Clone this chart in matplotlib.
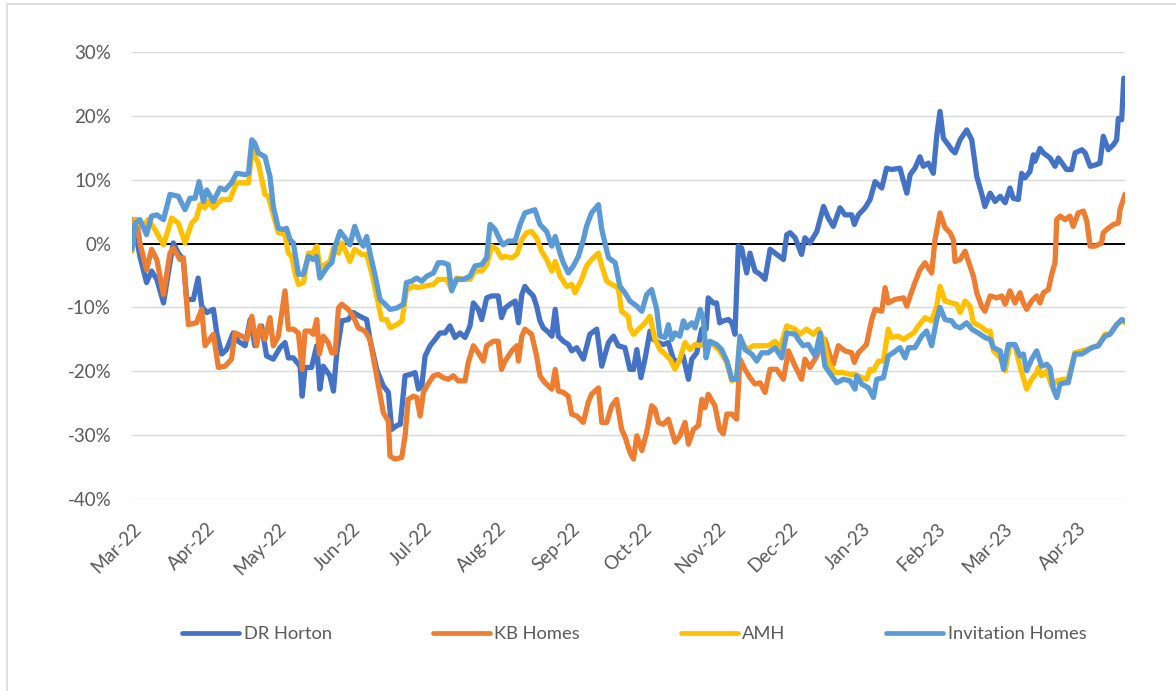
import numpy as np
import pandas as pd
import matplotlib
matplotlib.use("Agg")
import matplotlib.pyplot as plt
import matplotlib.dates as mdates
from matplotlib.ticker import FuncFormatter
from matplotlib.lines import Line2D

# ---------------- data (day offset from 2022-03-01, % change) ----------------
start_date = "2022-03-01"
end_day = 416

drh_days = [0.0, 1.3, 3.3, 6.1, 8.2, 10.4, 13.2, 15.2, 17.3, 19.4, 21.5, 22.9, 25.7, 27.7, 29.2, 31.3,
            34.1, 35.5, 37.6, 39.6, 42.4, 44.5, 47.4, 49.5, 51.5, 54.3, 56.4, 59.2, 62.0, 64.1, 65.5,
            67.6, 70.4, 71.3, 72.5, 75.2, 77.4, 78.7, 80.1, 82.9, 84.4, 85.8, 87.9, 90.6, 92.7, 95.5,
            98.3, 99.7, 102.5, 105.3, 107.4, 108.8, 110.9, 112.4, 114.4, 116.5, 118.6, 120.0, 121.4,
            122.8, 124.9, 127.0, 129.0, 131.1, 133.2, 135.3, 137.4, 139.5, 141.6, 143.0, 145.1, 146.5,
            148.6, 150.7, 153.4, 154.8, 156.3, 158.4, 160.5, 161.9, 163.3, 164.6, 166.0, 168.1, 169.5,
            170.9, 172.3, 174.5, 175.9, 177.3, 178.6, 180.7, 182.8, 184.2, 186.3, 189.1, 191.8, 194.7,
            196.8, 199.6, 201.7, 203.7, 206.5, 208.6, 210.1, 211.5, 213.2, 214.9, 217.0, 218.4, 220.5,
            222.6, 224.7, 226.8, 228.8, 230.9, 233.1, 234.5, 236.6, 238.7, 240.5, 241.4, 243.5, 244.9,
            246.2, 247.7, 249.9, 251.3, 252.6, 254.0, 255.4, 257.5, 258.9, 261.0, 263.1, 265.2, 267.3,
            270.1, 272.9, 274.3, 275.7, 277.8, 280.5, 281.9, 284.0, 286.9, 289.7, 291.7, 293.8, 296.6,
            298.7, 301.5, 302.6, 304.3, 307.1, 309.2, 311.3, 314.1, 316.1, 318.2, 321.7, 324.6, 326.0,
            328.0, 330.1, 331.5, 333.6, 335.7, 337.1, 338.5, 339.9, 341.9, 343.4, 344.8, 346.9, 349.7,
            351.8, 353.9, 355.9, 357.3, 359.5, 361.6, 363.7, 365.8, 367.8, 369.2, 371.3, 372.7, 374.1,
            376.2, 377.6, 378.3, 380.4, 381.8, 384.6, 386.7, 388.1, 390.2, 391.5, 393.6, 395.1, 397.9,
            399.3, 401.4, 403.5, 405.5, 406.9, 409.0, 411.2, 412.5, 413.2, 414.6, 415.5]
drh_vals = [2.2, 2.2, -2.0, -6.1, -4.3, -5.6, -9.3, -4.6, 0.1, -1.5, -2.5, -8.75, -8.75, -5.4, -9.8, -10.8,
            -10.3, -14.0, -17.3, -16.6, -14.0, -15.3, -16.0, -11.9, -16.0, -12.9, -17.6, -18.1, -16.3, -15.5, -17.9,
            -17.9, -19.2, -23.9, -19.4, -19.4, -16.0, -22.8, -19.2, -20.7, -23.1, -17.1, -12.1, -11.9, -10.8, -11.4,
            -11.9, -15.0, -19.7, -22.3, -23.3, -29.1, -28.5, -28.3, -20.7, -20.5, -20.2, -22.8, -22.3,
            -17.6, -16.0, -15.0, -14.0, -14.0, -12.9, -14.7, -14.0, -14.7, -12.9, -9.3, -10.3, -11.9,
            -8.5, -8.2, -8.2, -11.6, -10.1, -9.5, -9.0, -12.4, -8.0, -6.7, -7.4, -8.2, -9.8,
            -12.1, -13.2, -13.9, -14.5, -10.3, -14.5, -15.3, -15.8, -16.8, -16.3, -18.1, -14.2, -13.4,
            -19.2, -15.5, -14.5, -16.0, -16.3, -19.7, -19.7, -16.6, -21.0, -18.1, -13.7, -15.0, -15.5,
            -15.8, -15.5, -18.1, -18.6, -17.6, -21.25, -18.1, -17.1, -13.4, -13.4, -8.5, -9.3, -9.3,
            -12.4, -12.1, -11.9, -12.4, -14.2, -0.4, -0.7, -4.6, -1.5, -4.3, -4.8, -5.6, -0.9,
            -1.7, -2.5, 1.4, 1.7, 0.9, -1.7, 0.9, 0.1, 1.9, 5.8, 4.0, 2.7, 5.6,
            4.5, 4.5, 3.0, 4.5, 5.6, 6.9, 9.7, 8.7, 11.8, 11.6, 11.8, 7.9, 10.8,
            11.8, 13.6, 12.1, 12.6, 11.0, 16.8, 20.7, 16.5, 15.5, 14.7, 14.2, 16.25, 17.8,
            16.25, 10.5, 7.9, 5.8, 7.9, 6.6, 7.4, 6.4, 8.7, 7.1, 6.9, 11.0, 10.3,
            11.3, 13.9, 12.9, 14.9, 14.2, 13.4, 12.1, 13.4, 12.3, 11.6, 11.6, 14.2, 14.7,
            14.2, 12.1, 12.3, 12.6, 16.8, 14.7, 15.5, 16.25, 19.6, 19.4, 25.9]

kbh_days = [0.0, 1.9, 3.3, 6.1, 8.2, 10.4, 13.2, 15.9, 17.3, 20.1, 21.5, 23.6, 27.0, 29.2, 30.6, 34.1,
            36.2, 39.0, 41.7, 43.1, 46.0, 48.1, 50.2, 52.2, 53.6, 55.7, 57.8, 59.2, 61.3, 64.1, 65.5,
            67.6, 69.7, 71.3, 72.5, 74.6, 75.9, 77.4, 78.5, 80.1, 82.2, 83.7, 85.1, 86.5, 87.9, 90.6,
            92.7, 94.8, 97.6, 99.7, 101.2, 103.2, 105.3, 107.4, 108.1, 110.2, 113.0, 114.4, 115.7,
            117.9, 119.3, 120.7, 122.1, 123.5, 126.3, 128.3, 130.4, 132.5, 134.6, 136.7, 139.5, 140.9,
            143.0, 145.1, 147.2, 148.6, 151.4, 153.4, 154.8, 156.3, 159.1, 161.2, 161.9, 163.3, 164.6,
            167.4, 169.5, 170.9, 173.0, 175.9, 177.3, 178.6, 180.7, 182.8, 184.2, 186.3, 189.1, 191.1,
            192.5, 195.4, 196.8, 198.9, 201.0, 203.0, 205.1, 206.5, 208.6, 210.1, 211.5, 213.6, 215.6,
            217.7, 219.1, 220.5, 222.6, 224.7, 227.5, 229.5, 231.7, 233.1, 235.2, 237.3, 238.7, 240.0,
            241.4, 244.2, 246.2, 247.7, 249.2, 251.3, 253.3, 254.7, 256.8, 258.9, 261.0, 263.1, 265.2,
            267.3, 270.1, 272.9, 275.0, 277.8, 280.5, 281.9, 284.0, 286.9, 288.3, 290.3, 292.4, 293.8,
            295.9, 298.7, 301.5, 302.6, 304.3, 307.7, 309.9, 311.3, 314.1, 315.5, 316.8, 319.6, 323.2,
            324.6, 326.0, 328.0, 330.1, 332.2, 335.0, 336.4, 338.5, 340.6, 342.7, 344.1, 344.8, 346.9,
            349.0, 350.4, 352.5, 353.9, 355.9, 357.3, 359.5, 362.3, 364.4, 365.8, 367.8, 369.9, 372.0,
            373.4, 374.8, 376.9, 379.0, 380.4, 381.8, 383.9, 385.3, 386.7, 387.4, 388.8, 390.9, 392.9,
            394.3, 396.4, 398.6, 400.0, 401.4, 403.5, 406.2, 406.9, 409.0, 411.2, 413.2, 413.9, 416.0]
kbh_vals = [3.75, 3.75, 0.1, -4.1, -0.9, -2.5, -8.0, -1.5, -0.7, -2.5, -2.2, -12.7, -12.4, -10.3, -16.0, -14.2,
            -19.4, -19.2, -18.1, -14.0, -14.5, -15.0, -11.4, -16.0, -12.9, -15.0, -11.6, -16.0, -14.5, -7.4, -13.4,
            -13.4, -14.0, -19.7, -13.7, -13.7, -14.2, -11.9, -17.3, -14.5, -15.5, -17.1, -17.1, -10.1, -9.5, -10.3,
            -11.4, -13.2, -13.7, -15.0, -18.1, -22.3, -26.5, -27.8, -33.3, -33.75, -33.5, -30.1, -24.4,
            -23.9, -24.1, -27.0, -23.3, -22.3, -20.7, -20.5, -21.0, -21.25, -20.7, -21.5, -21.5, -18.6,
            -16.0, -17.1, -18.4, -16.0, -15.3, -15.3, -19.7, -18.4, -16.8, -16.0, -18.4, -14.5, -13.4,
            -14.2, -17.6, -20.7, -21.8, -22.8, -19.7, -23.1, -23.3, -23.9, -26.7, -27.0, -28.0, -24.9,
            -23.6, -22.6, -28.0, -28.0, -25.4, -24.4, -29.1, -30.2, -32.7, -33.75, -30.1, -32.4, -29.6,
            -25.4, -25.9, -28.0, -28.3, -27.5, -31.1, -30.1, -28.0, -31.4, -29.1, -28.5, -24.4, -25.7,
            -23.6, -25.4, -29.1, -29.8, -26.7, -26.7, -27.5, -18.1, -19.7, -21.0, -22.0, -21.8, -23.3,
            -19.7, -19.7, -21.25, -16.8, -19.2, -21.25, -18.1, -19.4, -17.6, -16.3, -15.0, -17.6, -18.9,
            -16.0, -16.8, -17.1, -18.6, -17.1, -15.8, -11.9, -10.3, -10.6, -6.9, -9.3, -8.75, -8.5,
            -9.8, -8.2, -6.1, -4.1, -3.0, -4.6, 0.6, 4.8, 2.5, 1.7, 0.6, -2.8, -2.5,
            -1.2, -2.8, -5.1, -7.7, -9.8, -10.6, -8.2, -8.5, -8.2, -9.5, -7.4, -9.3, -7.7,
            -9.3, -10.3, -9.0, -8.2, -9.3, -7.7, -7.2, -4.8, -3.0, 3.75, 4.3, 3.75, 4.3,
            2.7, 4.8, 5.1, 3.5, -0.4, -0.4, 0.1, 1.7, 2.4, 3.0, 3.2, 5.3, 7.7]

amh_days = [0.0, 1.3, 4.7, 6.8, 9.6, 13.2, 16.6, 19.4, 22.2, 25.0, 27.0, 28.5, 30.6, 32.0, 34.1, 37.6,
            41.0, 43.8, 48.8, 50.2, 52.9, 55.7, 57.1, 59.2, 61.3, 64.1, 65.5, 66.9, 68.3, 69.7, 71.8,
            73.9, 75.9, 77.4, 78.7, 80.8, 82.9, 84.4, 86.5, 87.9, 89.2, 91.3, 93.3, 96.2, 98.3, 100.4,
            102.5, 104.6, 106.7, 108.1, 110.9, 113.1, 115.0, 117.9, 120.0, 122.1, 126.3, 128.3, 131.8,
            133.9, 136.0, 138.9, 141.6, 143.7, 146.5, 148.6, 150.7, 152.7, 154.8, 156.3, 159.1, 161.2,
            163.3, 165.3, 167.4, 169.5, 171.6, 173.7, 175.9, 177.3, 179.3, 182.1, 184.2, 185.6, 188.4,
            190.4, 192.5, 195.4, 196.8, 198.9, 201.0, 203.7, 205.1, 207.9, 208.6, 210.1, 212.2, 214.3,
            217.0, 219.1, 221.2, 223.3, 225.4, 227.5, 229.5, 231.7, 233.8, 235.9, 238.0, 240.5, 243.5,
            246.2, 249.2, 251.3, 253.3, 254.7, 257.5, 260.3, 263.1, 266.5, 269.4, 271.5, 274.3, 277.8,
            279.8, 282.6, 285.4, 287.6, 289.7, 291.7, 294.5, 298.0, 300.8, 302.9, 305.7, 307.7, 309.2,
            310.6, 312.7, 314.8, 316.8, 318.2, 321.0, 323.2, 325.3, 327.4, 329.4, 332.2, 335.0, 337.1,
            338.5, 340.6, 343.4, 345.5, 346.9, 349.0, 351.1, 352.5, 355.2, 358.0, 359.5, 360.9, 363.7,
            365.8, 367.8, 369.9, 372.0, 374.8, 376.9, 379.0, 379.7, 381.1, 383.2, 385.3, 387.4, 390.2,
            392.2, 395.0, 397.9, 400.0, 402.1, 404.8, 407.6, 409.7, 412.5, 414.6, 416.0]
amh_vals = [-1.2, 3.75, 2.7, 3.75, 2.2, -0.2, 4.0, 3.2, 0.1, 3.2, 4.0, 6.1, 5.6, 6.6, 5.6, 6.9,
            6.9, 9.5, 9.5, 14.7, 12.6, 7.7, 7.4, 4.5, 1.7, 1.4, -1.5, -2.0, -4.6, -6.4, -6.1,
            -1.5, -1.5, -0.4, -3.8, -3.3, -2.8, -0.7, -1.5, 0.1, -0.9, -2.8, -0.9, -1.7, -1.7, -4.6,
            -8.2, -11.9, -11.9, -13.2, -12.7, -12.1, -7.2, -6.7, -6.9, -6.7, -6.4, -5.6, -5.6,
            -7.2, -5.4, -5.6, -5.6, -4.3, -4.3, -3.3, -0.4, -0.9, -2.25, -2.0, -2.25, -1.7,
            0.6, 1.7, 1.9, 0.9, -1.2, -2.5, -4.3, -2.8, -5.1, -6.7, -6.4, -7.7, -5.6,
            -3.5, -2.5, -1.5, -3.5, -5.9, -6.4, -6.9, -10.6, -11.4, -13.2, -14.2, -13.4, -12.7,
            -11.4, -15.0, -16.6, -17.3, -18.1, -19.7, -18.1, -15.5, -16.6, -15.8, -16.0, -15.5, -15.8,
            -16.8, -18.6, -21.5, -21.0, -15.0, -16.6, -16.0, -16.0, -16.0, -15.3, -16.3, -12.9, -13.4,
            -14.2, -13.4, -14.2, -13.4, -15.0, -18.6, -20.2, -20.2, -20.5, -20.5, -21.0, -21.25, -19.7,
            -19.9, -18.4, -18.4, -13.4, -14.7, -14.5, -15.0, -14.5, -14.0, -12.9, -11.6, -12.1, -9.8,
            -6.7, -9.0, -9.3, -9.5, -10.8, -9.0, -9.8, -12.4, -12.9, -13.7, -13.7, -16.8, -17.9,
            -19.9, -15.8, -16.0, -19.2, -22.8, -21.25, -20.2, -19.4, -20.7, -19.9, -22.3, -21.5, -21.25,
            -21.25, -17.1, -16.8, -16.6, -16.3, -16.0, -14.2, -14.2, -12.7, -12.1, -12.4]

invh_days = [0.0, 1.3, 3.3, 6.1, 8.2, 10.4, 13.2, 15.9, 19.4, 22.2, 24.3, 26.4, 28.1, 29.9, 31.3, 34.1,
             36.9, 39.0, 41.7, 43.8, 47.4, 48.8, 50.2, 51.5, 52.9, 55.7, 57.8, 59.2, 61.3, 63.4, 64.7,
             66.2, 67.6, 69.7, 71.8, 73.9, 75.9, 77.4, 78.7, 80.1, 82.2, 83.7, 85.1, 87.2, 89.2, 91.3,
             93.3, 95.5, 96.9, 98.3, 99.7, 101.9, 103.9, 106.0, 108.1, 110.9, 113.7, 115.0, 117.1,
             119.2, 121.4, 123.5, 126.3, 128.3, 130.4, 132.5, 133.9, 136.0, 138.9, 141.6, 143.7, 146.5,
             148.6, 150.0, 152.1, 154.1, 155.5, 157.7, 160.5, 162.6, 164.6, 168.8, 170.9, 173.7, 175.9,
             177.3, 179.3, 180.7, 182.8, 184.9, 187.0, 189.1, 190.4, 192.5, 195.4, 196.8, 199.6, 202.4,
             204.4, 206.5, 208.6, 211.5, 213.6, 215.6, 217.7, 219.8, 221.2, 223.3, 224.7, 226.1, 227.5,
             229.5, 231.0, 232.4, 234.5, 235.9, 238.0, 239.4, 240.5, 242.1, 244.9, 247.0, 249.2, 251.3,
             253.3, 254.7, 256.8, 259.6, 261.7, 263.8, 266.5, 269.4, 272.2, 274.3, 277.8, 279.1, 281.1,
             283.3, 286.2, 288.3, 290.3, 293.1, 295.2, 298.0, 300.8, 302.9, 303.6, 305.7, 308.5, 310.6,
             312.0, 314.8, 316.8, 318.9, 321.7, 323.9, 325.3, 328.0, 330.8, 332.9, 335.0, 337.1, 338.5,
             340.6, 343.4, 344.8, 346.9, 349.7, 351.8, 354.5, 357.3, 359.5, 360.9, 363.7, 365.1, 367.1,
             369.9, 372.0, 373.4, 374.8, 376.9, 379.0, 381.1, 383.2, 384.6, 386.0, 387.4, 388.8, 390.9,
             392.2, 395.0, 397.9, 400.0, 402.1, 404.8, 407.6, 409.7, 412.5, 414.6, 416.0]
invh_vals = [-0.9, 3.2, 3.75, 1.4, 4.3, 4.5, 3.75, 7.7, 7.4, 5.3, 7.1, 7.1, 9.7, 6.6, 8.4, 6.6,
             8.7, 8.4, 9.5, 11.0, 10.8, 11.0, 16.25, 15.7, 14.2, 13.6, 10.5, 5.8, 2.4, 2.2, 2.4,
             0.6, 0.1, -4.8, -4.8, -2.0, -2.5, -2.0, -5.4, -4.6, -3.5, -3.0, -0.4, 1.9, 0.9, -0.2,
             2.7, 0.4, -0.4, 1.1, -1.5, -5.1, -8.75, -9.5, -10.3, -10.1, -9.5, -6.1, -5.9,
             -5.4, -5.9, -5.1, -4.6, -3.0, -3.0, -3.3, -7.4, -5.6, -5.6, -5.1, -3.5, -3.3,
             -2.2, 3.0, 2.2, 0.6, -0.2, 0.4, 0.4, 3.0, 4.8, 5.3, 3.0, 1.9, -0.4,
             1.1, -1.5, -3.0, -4.6, -3.5, -2.0, 0.6, 2.7, 4.8, 6.1, 2.2, -2.2, -3.0,
             -6.7, -7.7, -9.0, -9.8, -10.6, -8.0, -7.2, -10.3, -14.5, -14.7, -12.7, -15.0, -14.0,
             -14.5, -12.1, -13.2, -12.4, -13.2, -10.3, -11.9, -17.9, -15.3, -15.8, -16.6, -18.4, -21.25,
             -21.25, -14.5, -16.6, -17.3, -18.4, -17.1, -17.1, -16.3, -17.9, -14.0, -14.2, -15.0, -16.0,
             -15.8, -17.6, -14.0, -19.2, -20.7, -21.8, -21.25, -21.5, -22.8, -20.7, -22.0, -22.6, -24.1,
             -21.25, -21.0, -17.6, -17.1, -16.3, -17.9, -16.3, -16.3, -14.5, -13.7, -16.0, -11.9, -10.0,
             -11.9, -12.1, -12.9, -13.2, -12.4, -13.4, -14.0, -14.7, -15.0, -16.3, -16.8, -19.7, -15.8,
             -15.8, -17.6, -17.3, -19.9, -18.1, -16.8, -19.2, -18.9, -19.5, -22.8, -24.1, -22.0, -21.8,
             -21.8, -17.3, -17.3, -16.8, -16.3, -16.0, -14.5, -14.2, -12.7, -11.9, -12.1]

series_names = ["DR Horton", "KB Homes", "AMH", "Invitation Homes"]
series_colors = ["#4472C4", "#ED7D31", "#FFC000", "#5B9BD5"]
y_ticks = [-40, -30, -20, -10, 0, 10, 20, 30]

# ---------------- drawing ----------------
plt.rcParams["font.family"] = ["Lato", "DejaVu Sans"]
TXT = "#595959"
W, H = 1176, 691
fig = plt.figure(figsize=(W / 100, H / 100), dpi=100)

# outer chart frame (left and top edges visible)
fig.add_artist(Line2D([7 / W, 7 / W, 1.0], [0.0, 1 - 4 / H, 1 - 4 / H],
                      transform=fig.transFigure, color="#D9D9D9", lw=1.2))

ax = fig.add_axes([132 / W, 1 - 499 / H, (1125 - 132) / W, (499 - 52) / H])
t0 = pd.Timestamp(start_date)


def to_dates(days):
    return t0 + pd.to_timedelta(np.asarray(days, dtype=float), unit="D")


LW = 3.8
all_days = [drh_days, kbh_days, amh_days, invh_days]
all_vals = [drh_vals, kbh_vals, amh_vals, invh_vals]
for d, v, c, n in zip(all_days, all_vals, series_colors, series_names):
    ax.plot(to_dates(d), v, color=c, lw=LW, label=n, zorder=3,
            solid_joinstyle="round", solid_capstyle="round")

ax.axhline(0, color="black", lw=1.4, zorder=2)
ax.set_ylim(-40, 30)
ax.set_yticks(y_ticks)
ax.yaxis.set_major_formatter(FuncFormatter(lambda v, p: f"{v:.0f}%"))
ax.set_xlim(t0, t0 + pd.Timedelta(days=end_day))
ax.xaxis.set_major_locator(mdates.MonthLocator())
ax.xaxis.set_major_formatter(mdates.DateFormatter("%b-%y"))
ax.grid(axis="y", color="#D9D9D9", lw=1.0, zorder=0)
ax.set_axisbelow(True)
for s in ax.spines.values():
    s.set_visible(False)
ax.tick_params(axis="y", length=0, pad=15, labelsize=13.5, labelcolor=TXT)
ax.tick_params(axis="x", length=0, pad=15, labelsize=13.5, labelcolor=TXT)
for lab in ax.get_xticklabels():
    lab.set_rotation(45)
    lab.set_ha("right")
    lab.set_va("top")
    lab.set_rotation_mode("anchor")

handles = [Line2D([0], [0], color=c, lw=3.4, solid_capstyle="round") for c in series_colors]
fig.legend(handles, series_names, loc="center", bbox_to_anchor=(634.5 / W, 1 - 634 / H),
           ncol=4, frameon=False, fontsize=13.2, labelcolor=TXT,
           handlelength=3.1, handletextpad=0.25, columnspacing=5.5)

fig.savefig("out.png", dpi=100, facecolor="white")
